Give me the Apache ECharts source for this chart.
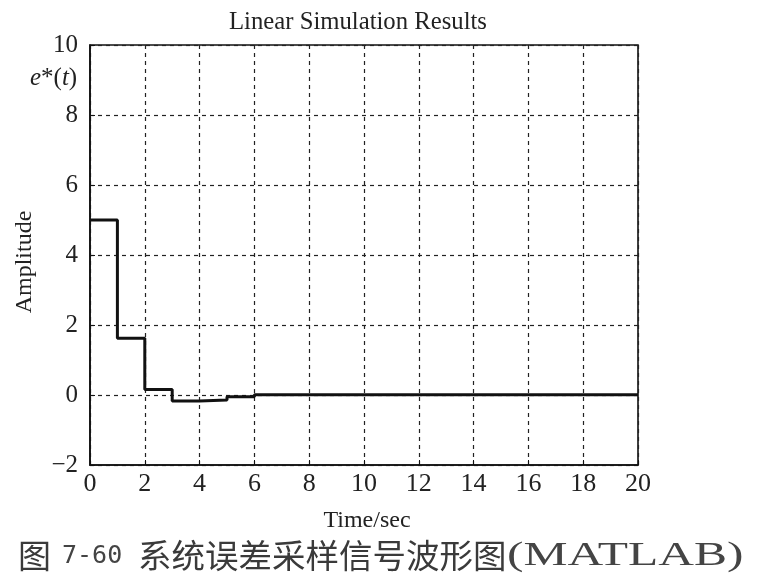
<!DOCTYPE html>
<html>
<head>
<meta charset="utf-8">
<script src="https://cdn.jsdelivr.net/npm/echarts@6/dist/echarts.min.js"></script>
<style>html,body{margin:0;padding:0;background:#fff;}#c{width:760px;height:580px;}</style>
</head>
<body>
<div id="c"></div>
<script>
var timeSamples = [0,1,2,3,4,5,6,7,8,9,10,11,12,13,14,15,16,17,18,19,20];
var errorValues = [5,1.62,0.16,-0.17,-0.14,-0.05,0.01,0.01,0.01,0.01,0.01,0.01,0.01,0.01,0.01,0.01,0.01,0.01,0.01,0.01,0.01];
var xTicks = [0,2,4,6,8,10,12,14,16,18,20];
var yTicks = [-2,0,2,4,6,8,10];

var seriesData = timeSamples.map(function(t,i){return [t, errorValues[i]];});
var serif = '"Liberation Serif","DejaVu Serif",serif';
var cjk = '"Noto Sans CJK SC",sans-serif';
var chart = echarts.init(document.getElementById('c'));
chart.setOption({
  animation:false,
  backgroundColor:'#fff',
  grid:{left:90,right:122,top:45,bottom:115,show:true,borderColor:'#111',borderWidth:1.6,backgroundColor:'transparent'},
  xAxis:{type:'value',min:0,max:20,interval:2,
    axisLine:{show:true,onZero:false,lineStyle:{color:'#111',width:1.6}},
    axisTick:{show:true,inside:true,length:5,lineStyle:{color:'#111'}},
    axisLabel:{fontFamily:serif,fontSize:26,color:'#222',margin:6,
      formatter:function(v){return xTicks.indexOf(v)>=0?String(v):'';}},
    splitLine:{show:true,lineStyle:{color:'#222',type:[4,4],width:1.2}}
  },
  yAxis:{type:'value',min:-2,max:10,interval:2,
    axisLine:{show:true,onZero:false,lineStyle:{color:'#111',width:1.6}},
    axisTick:{show:true,inside:true,length:5,lineStyle:{color:'#111'}},
    axisLabel:{fontFamily:serif,fontSize:25,color:'#222',margin:12,
      formatter:function(v){if(yTicks.indexOf(v)<0)return '';return v<0?'\u2212'+Math.abs(v):String(v);}},
    splitLine:{show:true,lineStyle:{color:'#222',type:[4,4],width:1.2}}
  },
  series:[{type:'line',step:'end',data:seriesData,symbol:'none',
    lineStyle:{color:'#111',width:3},z:5}],
  graphic:[
    {type:'text',x:358,y:22,scaleX:0.95,style:{text:'Linear Simulation Results',fontFamily:serif,fontSize:26,fill:'#222',align:'center',verticalAlign:'middle'}},
    {type:'text',x:367,y:521,style:{text:'Time/sec',fontFamily:serif,fontSize:24,fill:'#222',align:'center',verticalAlign:'middle'}},
    {type:'text',x:25,y:262,rotation:Math.PI/2,style:{text:'Amplitude',fontFamily:serif,fontSize:24,fill:'#222',align:'center',verticalAlign:'middle'}},
    {type:'text',x:30,y:78,style:{text:'{i|e}{n|*(}{i|t}{n|)}',verticalAlign:'middle',fill:'#222',
      rich:{i:{fontFamily:serif,fontStyle:'italic',fontSize:25,fill:'#222'},n:{fontFamily:serif,fontSize:25,fill:'#222'}}}},
    {type:'text',x:18,y:555,style:{text:'图',fontFamily:cjk,fontSize:33,fill:'#3a3a3a',verticalAlign:'middle'}},
    {type:'text',x:62,y:556,style:{text:'7-60',fontFamily:'"DejaVu Sans Mono",monospace',fontSize:25,fill:'#444',verticalAlign:'middle'}},
    {type:'text',x:138,y:555,style:{text:'系统误差采样信号波形图',fontFamily:cjk,fontSize:33.5,fill:'#3a3a3a',verticalAlign:'middle'}},
    {type:'text',x:507,y:556,scaleX:1.5,style:{text:'(MATLAB)',fontFamily:serif,fontSize:33,fill:'#444',verticalAlign:'middle'}}
  ]
});
</script>
</body>
</html>
